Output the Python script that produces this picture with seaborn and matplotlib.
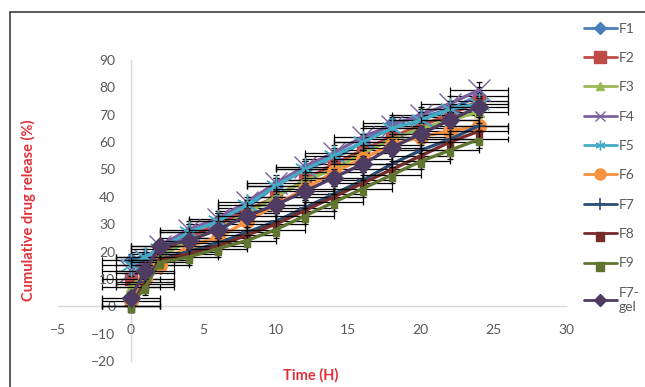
import numpy as np
import pandas as pd
import matplotlib
matplotlib.use("Agg")
import matplotlib.pyplot as plt
from matplotlib.lines import Line2D
from matplotlib.path import Path
import seaborn as sns

sns.set_theme(style="white")
plt.rcParams['font.family'] = ['Lato', 'DejaVu Sans']

# ---- data ----
time_h = [0, 1, 2, 4, 6, 8, 10, 12, 14, 16, 18, 20, 22, 24]
series_names = ["F1", "F2", "F3", "F4", "F5", "F6", "F7", "F8", "F9", "F7-gel"]
f1 = [17, 18, 20, 27, 31, 36, 44, 50, 54, 60, 67, 69, 72, 77]
f2 = [10, 15, 19, 25, 30, 35, 40, 46, 52, 57, 62, 66, 70, 75]
f3 = [7, 12, 18, 24, 28, 34, 40, 46, 50, 56, 61, 65, 68, 71]
f4 = [13, 17, 22, 28, 32, 38, 45, 51, 56, 62, 66, 70, 74, 79]
f5 = [15, 18, 21, 27, 31, 37, 44, 50, 55, 60, 65, 68, 72, 74]
f6 = [2, 10, 15, 22, 25, 31, 37, 43, 49, 54, 59, 62, 64, 66]
f7 = [0, 9, 17, 20, 23, 27, 31, 36, 41, 46, 52, 57, 61, 66]
f8 = [0, 8, 17, 19, 22, 26, 30, 35, 40, 45, 50, 55, 60, 64]
f9 = [0, 7, 16, 18, 21, 24, 28, 33, 38, 43, 48, 53, 57, 61]
f7_gel = [3, 13, 22, 24, 28, 33, 37, 42, 47, 52, 58, 63, 68, 73]
y_sd = [2, 3, 2, 3, 3, 2, 3, 3, 3, 3, 3, 3, 3, 3]
x_sd = [2, 2, 2, 2, 2, 2, 2, 2, 2, 2, 2, 2, 2, 2]
x_ticks = [-5, 0, 5, 10, 15, 20, 25, 30]
y_ticks = [-20, -10, 0, 10, 20, 30, 40, 50, 60, 70, 80, 90]

values = [f1, f2, f3, f4, f5, f6, f7, f8, f9, f7_gel]
df = pd.concat([pd.DataFrame({"Time": time_h, "Release": v, "Series": n})
                for n, v in zip(series_names, values)], ignore_index=True)

colors = ["#4A7EBB", "#BE4B48", "#98B954", "#7D60A0", "#46AAC5",
          "#F69240", "#2C4D75", "#772C2A", "#5F7530", "#4D3B62"]
tee = Path([(-0.5, 0.15), (0.5, 0.15), (0.5, -0.85), (-0.5, -0.85), (-0.5, 0.15)],
           [Path.MOVETO, Path.LINETO, Path.LINETO, Path.LINETO, Path.CLOSEPOLY])
markers = ["D", "s", "^", "x", (6, 2, 0), "o", "+", tee, tee, "D"]
msizes = [7, 9, 7, 16, 16, 10, 9, 8, 8, 9]
mew = [1, 1, 1, 1.0, 1.0, 1, 1.2, 1, 1, 1]
leg_msizes = [6, 9, 6, 7, 7, 8, 8, 11, 11, 6]

fig = plt.figure(figsize=(6.45, 3.87), dpi=100)
ax = fig.add_axes([58/645, 26/387, (566-58)/645, (361-60)/387])

for i, name in enumerate(series_names):
    sub = df[df["Series"] == name]
    ax.errorbar(sub["Time"], sub["Release"], xerr=x_sd, yerr=y_sd, fmt="none",
                ecolor="black", elinewidth=0.9, capsize=2.5, capthick=0.9, zorder=2 + i)
    sns.lineplot(data=sub, x="Time", y="Release", ax=ax, color=colors[i],
                 linewidth=2.4, marker=markers[i], markersize=msizes[i],
                 markeredgewidth=mew[i], markeredgecolor=colors[i],
                 zorder=2.5 + i, legend=False, errorbar=None)

ax.set_xlim(-5, 30)
ax.set_ylim(-20, 90)
ax.set_xticks(x_ticks)
ax.set_yticks(y_ticks)
ax.spines["left"].set_position(("data", 0))
ax.spines["bottom"].set_position(("data", 0))
for s in ["top", "right"]:
    ax.spines[s].set_visible(False)
for s in ["left", "bottom"]:
    ax.spines[s].set_color("#D9D9D9")
    ax.spines[s].set_linewidth(1)
    ax.spines[s].set_zorder(0)
ax.tick_params(axis="both", length=0, labelsize=10, labelcolor="#595959")
ax.tick_params(axis="x", pad=13)
ax.tick_params(axis="y", pad=11)
ax.set_xlabel("")
ax.set_ylabel("")
ax.patch.set_alpha(0)

fig.text(311/645, 1 - 375/387, "Time (H)", color="#E0313A", fontsize=10.5,
         fontweight="bold", ha="center", va="center")
fig.text(28/645, 1 - 210/387, "Cumulative drug release (%)", color="#E0313A",
         fontsize=10.5, fontweight="bold", ha="center", va="center", rotation=90)

# legend
handles = [Line2D([0], [0], color=colors[i], lw=2.0, marker=markers[i],
                  markersize=leg_msizes[i], markeredgewidth=mew[i],
                  markeredgecolor=colors[i]) for i in range(len(series_names))]
labels = ["F1", "F2", "F3", "F4", "F5", "F6", "F7", "F8", "F9", "F7-\ngel"]
fig.legend(handles, labels, loc="upper left", bbox_to_anchor=(578/645, 1 - 17/387),
           frameon=False, fontsize=10, labelcolor="#595959", handlelength=2.4,
           handletextpad=0.1, labelspacing=1.25, borderaxespad=0)

# chart border
fig.add_artist(Line2D([10/645, 1], [1 - 12/387, 1 - 12/387], color="#404040", lw=1.2,
                      transform=fig.transFigure))
fig.add_artist(Line2D([10/645, 10/645], [0, 1 - 12/387], color="#404040", lw=1.2,
                      transform=fig.transFigure))

fig.savefig("out.png", dpi=100)
